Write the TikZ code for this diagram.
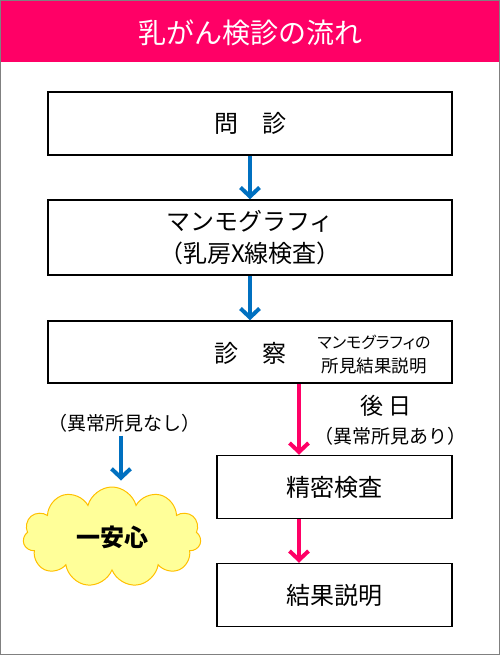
\documentclass[tikz,border=0pt]{standalone}
\usepackage{fontspec}
\setmainfont{Noto Sans CJK JP}
\usetikzlibrary{arrows.meta,shapes.symbols}
\definecolor{Rose}{HTML}{FF0066}
\definecolor{Azure}{HTML}{0070C0}
\definecolor{Cream}{HTML}{FFFF99}
\definecolor{Amber}{HTML}{FFC000}

\begin{document}
\begin{tikzpicture}[x=1pt, y=-1pt,
    box/.style={draw, line width=1.5pt, minimum height=63pt, align=center, inner sep=0pt},
    bigtext/.style={font=\fontsize{24}{32}\selectfont},
    smalltext/.style={font=\fontsize{19}{22}\selectfont},
    bluearrow/.style={color=Azure, line width=4pt, -{Straight Barb[length=9pt, width=19pt]}},
    pinkarrow/.style={color=Rose, line width=4pt, -{Straight Barb[length=9pt, width=19pt]}}]
    \useasboundingbox (0,0) rectangle (500,655);
    \fill [Rose] (0,0) rectangle (500,62);
    \draw [color=gray] (0.5,0.5) rectangle (499.5,654.5);
    \node [text=white, font=\fontsize{28}{30}\selectfont] (title) at (250,33) {乳がん検診の流れ};

    \node [box, bigtext, minimum width=404pt] (monshin) at (250,123.5) {問　診};
    \node [box, bigtext, minimum width=404pt, minimum height=75pt] (mammo) at (250,237.5)
    {マンモグラフィ\\（乳房X線検査）};
    \node [box, minimum width=404pt, minimum height=62pt] (shinsatsu) at (250,352) {};
    \node [bigtext] (shinsatsutext) at (250,353) {診　察};
    \node [align=center, font=\fontsize{17.5}{24}\selectfont] (shoken) at (374,355)
    {{\fontsize{16}{24}\selectfont\addfontfeatures{RawFeature=+palt}マンモグラフィの}\\所見結果説明};
    \node [box, bigtext, minimum width=235pt] (seimitsu) at (334.5,487) {精密検査};
    \node [box, bigtext, minimum width=235pt] (setsumei) at (334.5,595) {結果説明};

    \node [smalltext] (nashi) at (124,423) {（異常所見なし）};
    \node [font=\fontsize{23}{26}\selectfont] (gojitsu) at (386,406) {後 日};
    \node [smalltext] (ari) at (390,436) {（異常所見あり）};

    \node [cloud, cloud puffs=11, aspect=1.8, draw=Amber, fill=Cream, line width=1pt,
    minimum width=178pt, minimum height=100pt,
    font=\bfseries\fontsize{24}{26}\selectfont] (anshin) at (112,537) {一安心\hspace{10pt}};

    \coordinate (p) at (299,0);
    \coordinate (q) at (121,0);
    \draw [bluearrow] (monshin) -- (mammo);
    \draw [bluearrow] (mammo) -- (shinsatsu);
    \draw [pinkarrow] (shinsatsu.south -| p) -- (seimitsu.north -| p);
    \draw [pinkarrow] (seimitsu.south -| p) -- (setsumei.north -| p);
    \draw [bluearrow, shorten >=6pt] (nashi.south -| q) -- (anshin.north -| q);
\end{tikzpicture}
\end{document}
